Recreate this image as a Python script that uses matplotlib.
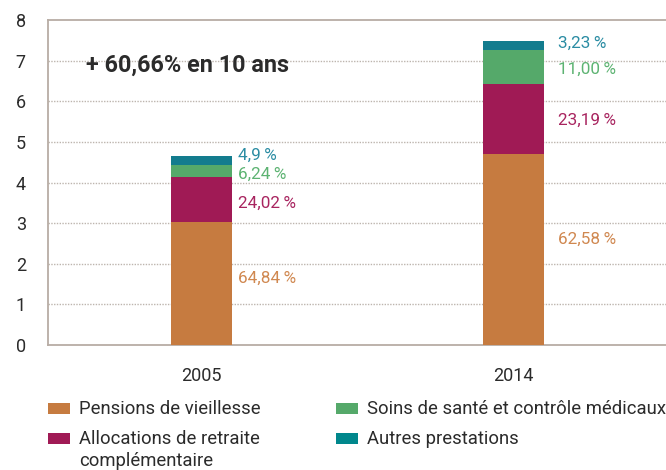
import matplotlib
matplotlib.use("Agg")
import matplotlib.pyplot as plt
from matplotlib.patches import Rectangle
import numpy as np

plt.rcParams['font.family'] = ['Roboto', 'DejaVu Sans']

years = ["2005", "2014"]
series_names = ["Pensions de vieillesse",
                "Allocations de retraite\ncomplémentaire",
                "Soins de santé et contrôle médicaux",
                "Autres prestations"]
pensions = [3.02, 4.69]
allocations = [1.12, 1.74]
soins = [0.29, 0.82]
autres = [0.23, 0.24]
pct_2005 = ["64,84\u2009%", "24,02\u2009%", "6,24\u2009%", "4,9\u2009%"]
pct_2014 = ["62,58\u2009%", "23,19\u2009%", "11,00\u2009%", "3,23\u2009%"]
headline = "+ 60,66% en 10 ans"
yticks = [0, 1, 2, 3, 4, 5, 6, 7, 8]

colors = ["#C67B40", "#A01A55", "#55A96A", "#137C8E"]
text_colors = ["#D08850", "#A8245F", "#5DB372", "#2A8CA3"]
legend_colors = ["#C67B40", "#A01A55", "#55A96A", "#00878C"]
spine_color = "#B8ADA5"
grid_color = "#BDB5AE"
text_dark = "#2B2B2B"

W, H = 666, 470
fig = plt.figure(figsize=(W / 100, H / 100), dpi=100)
ax = fig.add_axes([48 / W, 1 - 345 / H, (W - 48) / W, (345 - 20) / H])

series = [pensions, allocations, soins, autres]
x = np.arange(len(years))
bottom = np.zeros(len(years))
bar_w = 0.1955
mids = []
for vals, c in zip(series, colors):
    vals = np.array(vals)
    ax.bar(x, vals, bottom=bottom, width=bar_w, color=c, linewidth=0, zorder=3)
    mids.append(bottom + vals / 2)
    bottom = bottom + vals

ax.set_xlim(-0.492, 1.489)
ax.set_ylim(0, 8)
ax.set_yticks(yticks)
ax.set_yticklabels([str(t) for t in yticks])
ax.set_xticks(x)
ax.set_xticklabels(years)
ax.tick_params(axis='y', length=0, pad=16, labelsize=13, labelcolor=text_dark)
ax.tick_params(axis='x', length=0, pad=16, labelsize=13, labelcolor=text_dark)

for t in yticks[1:-1]:
    ax.axhline(t, color=grid_color, linestyle=(0, (1, 1)), linewidth=1.0, zorder=1)

for s in ['left', 'top', 'bottom']:
    ax.spines[s].set_color(spine_color)
    ax.spines[s].set_linewidth(1.3)
ax.spines['right'].set_visible(False)

# percentage labels (pixel nudges relative to segment middles)
nudges_2005 = [-5, 4, 3, -5]
nudges_2014 = [-10, 1, 2, -2]
x_off = [6, 14]
for j, (pcts, nudges) in enumerate([(pct_2005, nudges_2005), (pct_2014, nudges_2014)]):
    for i in range(4):
        ax.annotate(pcts[i], xy=(x[j] + bar_w / 2, mids[i][j]),
                    xytext=(x_off[j] * 0.72, -nudges[i] * 0.72), textcoords='offset points',
                    ha='left', va='center', fontsize=12.3, color=text_colors[i])

fig.text(86 / W, 1 - 65 / H, headline, ha='left', va='center',
         fontsize=16.8, fontweight='bold', color=text_dark)

# legend
leg_items = [(48, 403, 0), (48, 433, 1), (336, 403, 2), (336, 433, 3)]
for px, py, i in leg_items:
    fig.add_artist(Rectangle((px / W, 1 - (py + 11) / H), 22 / W, 11 / H,
                             transform=fig.transFigure, color=legend_colors[i], linewidth=0))
    fig.text((px + 31) / W, 1 - (py - 3) / H, series_names[i], ha='left', va='top',
             fontsize=13.3, color=text_dark, linespacing=1.25)

fig.savefig("out.png", dpi=100)
